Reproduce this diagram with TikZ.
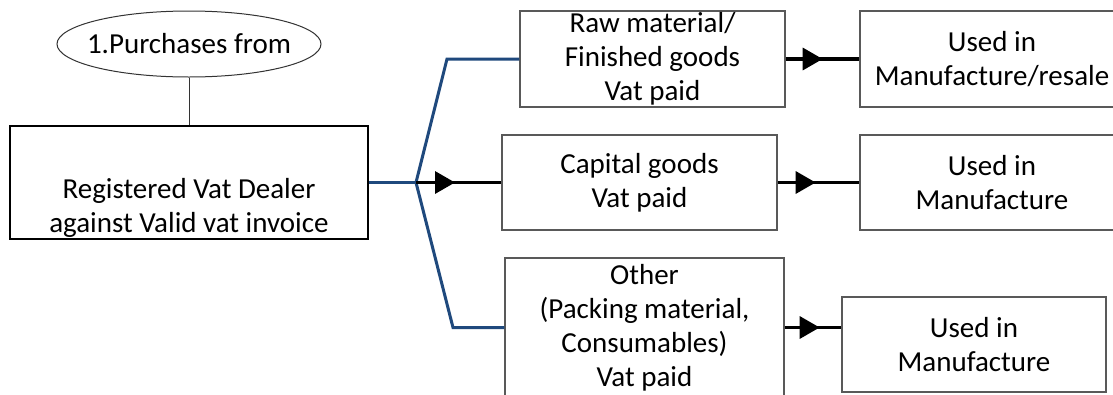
\documentclass[tikz,border=0pt]{standalone}
\usepackage{fontspec}
\setmainfont{Carlito}
\usetikzlibrary{shapes.geometric,arrows.meta,decorations.markings}
\definecolor{linkblue}{RGB}{31,73,125}
\begin{document}
\begin{tikzpicture}[x=1pt,y=-1pt,
  txt/.style={font=\fontsize{29}{34}\selectfont, align=center, inner sep=0pt},
  box/.style={txt, draw=black!65, line width=1.3pt, rectangle},
  mainbox/.style={draw=black, line width=2.6pt, rectangle, inner sep=0pt},
  oval/.style={ellipse, draw=black!80, line width=1pt, inner sep=0pt},
  blueline/.style={draw=linkblue, line width=3pt},
  thinline/.style={draw=black!80, line width=1pt},
  midarrow/.style={draw=black, line width=3.4pt,
    decoration={markings, mark=at position #1 with {\arrow{Triangle[length=20pt,width=22pt]}}},
    postaction={decorate}}
]
\clip (0,0) rectangle (1113,394);
\fill[white] (0,0) rectangle (1113,394);

% nodes
\node[oval, minimum width=264pt, minimum height=66pt] (E) at (189,44) {};
\node[txt] (Et) at (E.center) {1.Purchases from};
\node[mainbox, minimum width=358pt, minimum height=113pt] (A) at (189,182.5) {};
\node[txt] (At) at (189,208) {Registered Vat Dealer\\against Valid vat invoice};

\node[box, minimum width=265pt, minimum height=96pt] (B1) at (652.5,59) {Raw material/\\Finished goods\\Vat paid};
\node[box, minimum width=275pt, minimum height=95pt] (B2) at (639.5,182.5) {Capital goods\\Vat paid};
\node[box, minimum width=279pt, minimum height=139pt] (B3) at (644.5,327.5) {Other\\(Packing material,\\Consumables)\\Vat paid};

\node[box, minimum width=264pt, minimum height=96pt] (C1) at (992,59) {Used in\\Manufacture/resale};
\node[box, minimum width=264pt, minimum height=95pt] (C2) at (992,182.5) {Used in\\Manufacture};
\node[box, minimum width=264pt, minimum height=95pt] (C3) at (974,344.5) {Used in\\Manufacture};

% connectors
\draw[thinline] (E.south) -- (A.north);

\coordinate (F) at (416,182.5);
\coordinate (U) at (447,59);
\coordinate (L) at (453,327.5);
\draw[blueline] (A.east) -- (F);
\draw[blueline] (F) -- (U) -- (B1.west);
\draw[blueline] (F) -- (L) -- (B3.west);
\draw[midarrow=39pt] (F) -- (B2.west);

\draw[midarrow=37pt] (B1.east) -- (C1.west);
\draw[midarrow=38pt] (B2.east) -- (C2.west);
\draw[midarrow=35pt] (B3.east) -- (B3.east -| C3.west);
\end{tikzpicture}
\end{document}
